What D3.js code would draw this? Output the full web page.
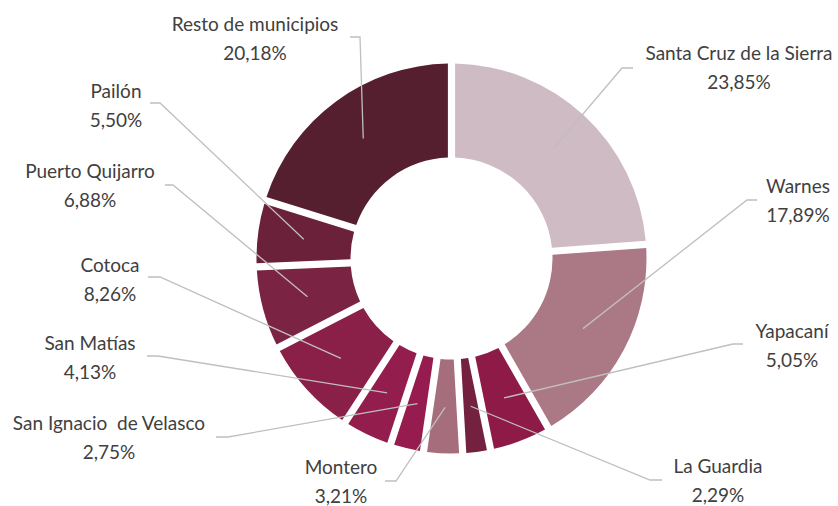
<!DOCTYPE html>
<html><head><meta charset="utf-8">
<script src="https://cdn.jsdelivr.net/npm/d3@7"></script>
<style>body{margin:0;background:#fff}svg{display:block}</style>
</head><body>
<svg id="c" width="838" height="506"></svg>
<script>
const categories = ["Santa Cruz de la Sierra","Warnes","Yapacaní","La Guardia","Montero","San Ignacio  de Velasco","San Matías","Cotoca","Puerto Quijarro","Pailón","Resto de municipios"];
const values = [23.85,17.89,5.05,2.29,3.21,2.75,4.13,8.26,6.88,5.50,20.18];
const valueLabels = ["23,85%","17,89%","5,05%","2,29%","3,21%","2,75%","4,13%","8,26%","6,88%","5,50%","20,18%"];
const colors = ["#CFBBC3","#AB7885","#8E1B47","#73213E","#A66D7D","#961C4F","#931D4C","#8A1F48","#7A2343","#6B2139","#561F30"];
// label layout: text center x, name baseline y, leader start x, elbow x, leader y
const labelLayout = [
  [739,60,633,622,68],
  [798,193,757,747,200],
  [792,338,743,733,344],
  [718,473,662,650,480],
  [341,474,385,396,481],
  [109,430,216,228,437],
  [90,350,147,158,356],
  [110,272,148,160,277],
  [90,178,165,173,185],
  [116,98,150,160,103],
  [255,31,350,360,37]
];

const svg = d3.select("#c");
const cx = 451.5, cy = 258.5, rOut = 195, rIn = 101;
const g = svg.append("g").attr("transform", `translate(${cx},${cy})`);
const pie = d3.pie().sort(null).value(d => d);
const arcs = pie(values);
const arc = d3.arc().innerRadius(rIn).outerRadius(rOut).padRadius(200).padAngle(0.036);
const mid = d3.arc().innerRadius(149).outerRadius(149);

g.selectAll("path.s").data(arcs).join("path").attr("class","s")
  .attr("d", arc).attr("fill", (d,i) => colors[i]);

// leader lines
svg.selectAll("path.l").data(arcs).join("path").attr("class","l")
  .attr("fill","none").attr("stroke","#BFBFBF").attr("stroke-width",1.3)
  .attr("d", (d,i) => {
    const L = labelLayout[i];
    const c = mid.centroid(d);
    return `M${L[2]},${L[4]}L${L[3]},${L[4]}L${c[0]+cx},${c[1]+cy}`;
  });

const font = "Lato, 'Noto Sans', sans-serif";
const lab = svg.selectAll("g.t").data(arcs).join("g").attr("class","t");
lab.append("text").attr("x",(d,i)=>labelLayout[i][0]).attr("y",(d,i)=>labelLayout[i][1])
  .attr("text-anchor","middle").attr("font-family",font).attr("xml:space","preserve")
  .attr("font-size",19).attr("fill","#404040").text((d,i)=>categories[i]);
lab.append("text").attr("x",(d,i)=>labelLayout[i][0]).attr("y",(d,i)=>labelLayout[i][1]+28.5)
  .attr("text-anchor","middle").attr("font-family",font)
  .attr("font-size",19).attr("fill","#404040").text((d,i)=>valueLabels[i]);
</script>
</body></html>
